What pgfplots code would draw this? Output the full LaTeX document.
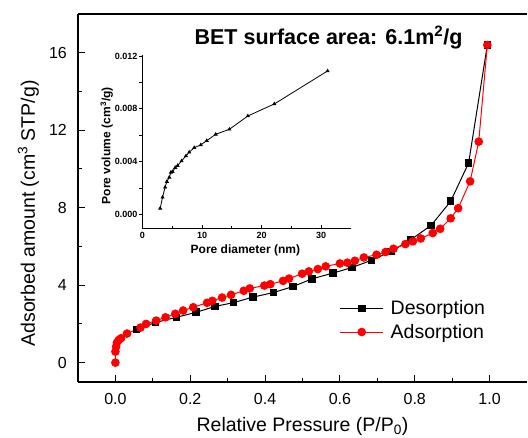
\documentclass[border=0pt]{standalone}
\usepackage{pgfplots}
\pgfplotsset{compat=1.18}
\usepackage{fontspec}
\setmainfont{Liberation Sans}
\definecolor{myred}{RGB}{255,0,0}
\begin{document}
\begin{tikzpicture}
\useasboundingbox (-78pt,-56pt) rectangle (450pt,382pt);
\begin{axis}[
  at={(0pt,0pt)}, anchor=south west,
  scale only axis, width=449pt, height=368pt,
  xmin=-0.1, xmax=1.1, ymin=-1, ymax=18,
  axis x line*=box, axis y line*=left,
  xtick pos=left, ytick pos=left,
  xtick={0,0.2,0.4,0.6,0.8,1.0}, minor xtick={0.1,0.3,0.5,0.7,0.9},
  ytick={0,4,8,12,16}, minor ytick={2,6,10,14},
  tick align=inside, major tick length=7pt, minor tick length=4pt,
  every tick/.style={black, line width=1pt},
  axis line style={line width=1.3pt},
  /pgf/number format/assume math mode=true,
  ticklabel style={font=\fontsize{16}{18}\selectfont, inner sep=0pt},
  xticklabel style={anchor=base, yshift=-23pt, /pgf/number format/.cd, fixed, fixed zerofill, precision=1},
  yticklabel style={anchor=east, xshift=-11pt},
  xlabel={Relative Pressure (P/P\textsubscript{0})},
  ylabel={Adsorbed amount (cm\textsuperscript{3} STP/g)},
  label style={font=\fontsize{19.5}{22}\selectfont, inner sep=0pt},
  xlabel style={at={([yshift=-49.7pt]axis description cs:0.5,0)}, anchor=base},
  ylabel style={at={([xshift=-43pt]axis description cs:0,0.458)}, anchor=base, rotate=0},
  legend style={draw=none, fill=none, at={(axis cs:0.599,2.19)}, anchor=west, inner sep=0pt,
    font=\fontsize{19.5}{22}\selectfont, row sep=4pt, column sep=5pt},
  legend cell align=left,
  legend image code/.code={\draw[mark repeat=2,mark phase=2] plot coordinates {(0pt,0pt) (21.5pt,0pt) (43pt,0pt)};},
]
\addplot[black, line width=1pt, mark=square*, mark size=3.3pt, mark options={solid}] coordinates {
(0.994,16.4) (0.944,10.31) (0.896,8.33) (0.844,7.09) (0.789,6.34) (0.737,5.74)
(0.684,5.28) (0.632,4.91) (0.581,4.62) (0.526,4.33) (0.475,3.93) (0.423,3.62)
(0.367,3.38) (0.316,3.10) (0.266,2.90) (0.216,2.60) (0.163,2.34) (0.107,2.07)
(0.056,1.72)
};
\addlegendentry{Desorption}
\addplot[myred, line width=1pt, mark=*, mark size=3.8pt, mark options={solid}] coordinates {
(0.000,0.00) (0.000,0.57) (0.002,0.83) (0.004,1.03) (0.009,1.17) (0.015,1.26)
(0.031,1.50) (0.067,1.81) (0.082,2.00) (0.109,2.17) (0.134,2.34) (0.160,2.52)
(0.181,2.69) (0.208,2.86) (0.245,3.09) (0.259,3.19) (0.285,3.36) (0.309,3.50)
(0.343,3.71) (0.359,3.83) (0.398,3.98) (0.414,4.05) (0.448,4.22) (0.464,4.34)
(0.499,4.59) (0.517,4.71) (0.541,4.83) (0.562,4.97) (0.600,5.12) (0.620,5.16)
(0.640,5.26) (0.664,5.43) (0.698,5.57) (0.722,5.71) (0.743,5.88) (0.775,6.12)
(0.795,6.26) (0.816,6.41) (0.848,6.69) (0.868,6.91) (0.896,7.45) (0.916,7.97)
(0.948,9.36) (0.971,11.41) (0.994,16.40)
};
\addlegendentry{Adsorption}
\node[font=\bfseries\fontsize{21.5}{24}\selectfont, anchor=base, inner sep=0pt]
  at (axis cs:0.5695,16.45) {BET surface area: 6.1m\textsuperscript{2}/g};
\end{axis}
\begin{axis}[
  at={(64.5pt,153.7pt)}, anchor=south west,
  scale only axis, width=208.3pt, height=173.7pt,
  xmin=0, xmax=35, ymin=-0.00106, ymax=0.0121,
  axis lines*=left,
  xtick={0,10,20,30}, minor xtick={5,15,25},
  ytick={0,0.004,0.008,0.012}, minor ytick={0.002,0.006,0.010},
  scaled y ticks=false,
  tick align=inside, major tick length=3.5pt, minor tick length=2.5pt,
  every tick/.style={black, line width=0.7pt},
  y tick style={xshift=-3pt},
  axis line style={line width=0.9pt},
  /pgf/number format/assume math mode=true,
  ticklabel style={font=\bfseries\fontsize{9}{10}\selectfont, inner sep=0pt},
  xticklabel style={anchor=base, yshift=-10pt},
  yticklabel style={anchor=east, xshift=-5pt, /pgf/number format/.cd, fixed, fixed zerofill, precision=3},
  xlabel={Pore diameter (nm)},
  ylabel={Pore volume\,\,(cm\textsuperscript{3}/g)},
  label style={font=\bfseries\fontsize{12}{14}\selectfont, inner sep=0pt},
  xlabel style={at={([yshift=-25pt]axis description cs:0.494,0)}, anchor=base},
  ylabel style={at={([xshift=-32pt]axis description cs:0,0.476)}, anchor=base},
]
\addplot[black, line width=0.8pt, mark=triangle*, mark size=1.6pt] coordinates {
(2.97,0.00045) (3.37,0.00129) (3.8,0.00205) (4.1,0.00248) (4.5,0.0028)
(4.77,0.00318) (5.05,0.00323) (5.5,0.00354) (5.9,0.00369) (6.56,0.00404)
(7.3,0.00442) (7.85,0.0047) (8.7,0.00505) (9.8,0.00526) (10.8,0.00558)
(12.3,0.00606) (14.6,0.00644) (17.7,0.00745) (22.15,0.00836) (31.1,0.01086)
};
\end{axis}
\end{tikzpicture}
\end{document}
